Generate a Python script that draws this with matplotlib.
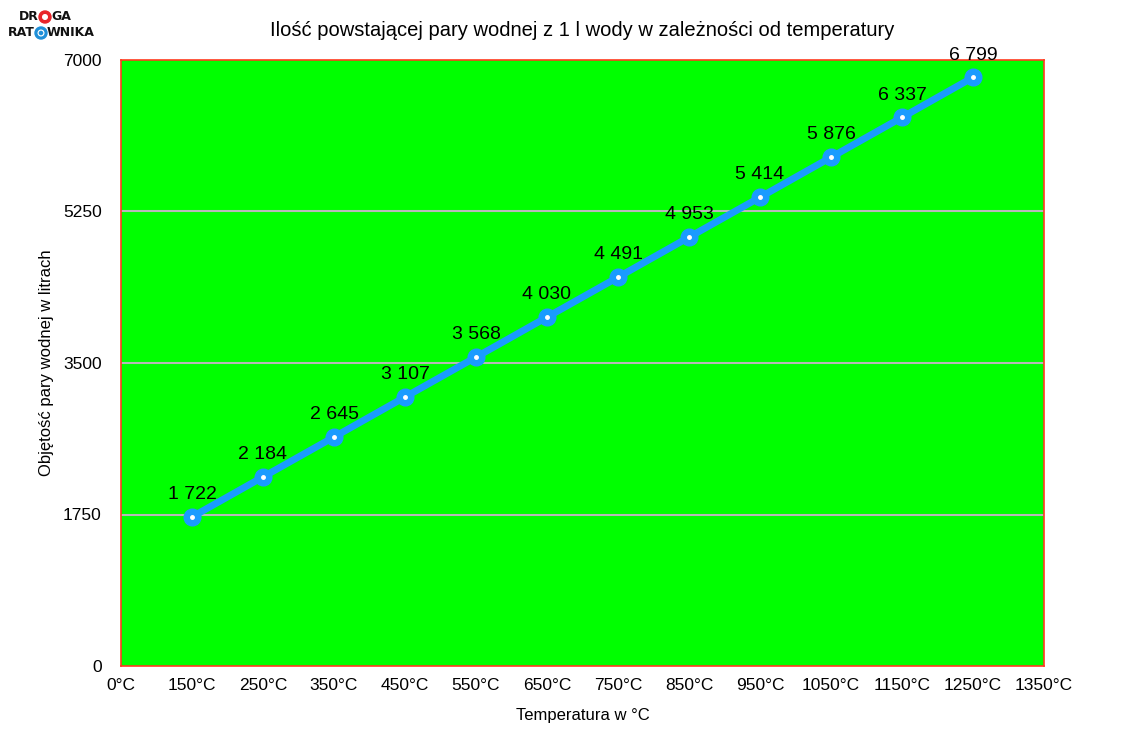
import matplotlib
matplotlib.use("Agg")
import matplotlib.pyplot as plt
from matplotlib.patches import Circle

categories = ["0°C", "150°C", "250°C", "350°C", "450°C", "550°C", "650°C", "750°C",
              "850°C", "950°C", "1050°C", "1150°C", "1250°C", "1350°C"]
point_positions = [1, 2, 3, 4, 5, 6, 7, 8, 9, 10, 11, 12]
values = [1722, 2184, 2645, 3107, 3568, 4030, 4491, 4953, 5414, 5876, 6337, 6799]
y_ticks = [0, 1750, 3500, 5250, 7000]

plt.rcParams['font.family'] = ['Liberation Sans', 'DejaVu Sans']

fig = plt.figure(figsize=(11.27, 7.52), dpi=100)
ax = fig.add_axes([121/1127, 1 - 666/752, (1044-121)/1127, (666-60)/752])
ax.set_facecolor('#00ff00')
for s in ax.spines.values():
    s.set_color('#ff3b1f')
    s.set_linewidth(1.2)

ax.set_xlim(0, len(categories) - 1)
ax.set_ylim(0, 7000)
ax.set_xticks(range(len(categories)))
ax.set_xticklabels(categories)
ax.set_yticks(y_ticks)
ax.set_yticklabels([str(v) for v in y_ticks])
ax.tick_params(length=0, labelsize=12.5, colors='black', pad=8.5)
ax.tick_params(axis='y', pad=14)
for t in y_ticks[1:-1]:
    ax.axhline(t, color='#b8b8b8', lw=1.5, zorder=1)

ax.plot(point_positions, values, color='#1a9bff', lw=5, zorder=3,
        marker='o', markersize=12, markerfacecolor='#1a9bff', markeredgecolor='#1a9bff')
ax.plot(point_positions, values, ls='none', marker='o', markersize=2.5,
        markerfacecolor='white', markeredgecolor='white', zorder=4)

for x, v in zip(point_positions, values):
    lbl = f"{v:,}".replace(",", " ")
    ax.annotate(lbl, (x, v), xytext=(0, 10), textcoords='offset points',
                ha='center', va='bottom', fontsize=14, zorder=5, annotation_clip=False)

fig.text(582/1127, 1 - 31/752, "Ilość powstającej pary wodnej z 1 l wody w zależności od temperatury",
         ha='center', va='center', fontsize=14.5)
ax.set_xlabel("Temperatura w °C", fontsize=12, labelpad=11)
ax.set_ylabel("Objętość pary wodnej w litrach", fontsize=12, labelpad=6)

# logo
lax = fig.add_axes([0, 1 - 50/752, 130/1127, 50/752])
lax.set_xlim(0, 130)
lax.set_ylim(50, 0)
lax.axis('off')
kw = dict(va='center', fontsize=9, fontweight='heavy', family='DejaVu Sans', color='#111111')
lax.text(39, 17, "DR", ha='right', **kw)
lax.text(51, 17, "GA", ha='left', **kw)
lax.text(35, 33, "RAT", ha='right', **kw)
lax.text(47, 33, "WNIKA", ha='left', **kw)
lax.add_patch(Circle((45, 17), 6, color='#e8252a'))
lax.add_patch(Circle((45, 17), 2.3, color='white'))
lax.add_patch(Circle((41, 33), 6, color='#1e8fd8'))
lax.add_patch(Circle((41, 33), 2.8, color='white'))
lax.add_patch(Circle((41, 33), 1.6, color='#1e8fd8'))

fig.savefig("out.png", dpi=100)
